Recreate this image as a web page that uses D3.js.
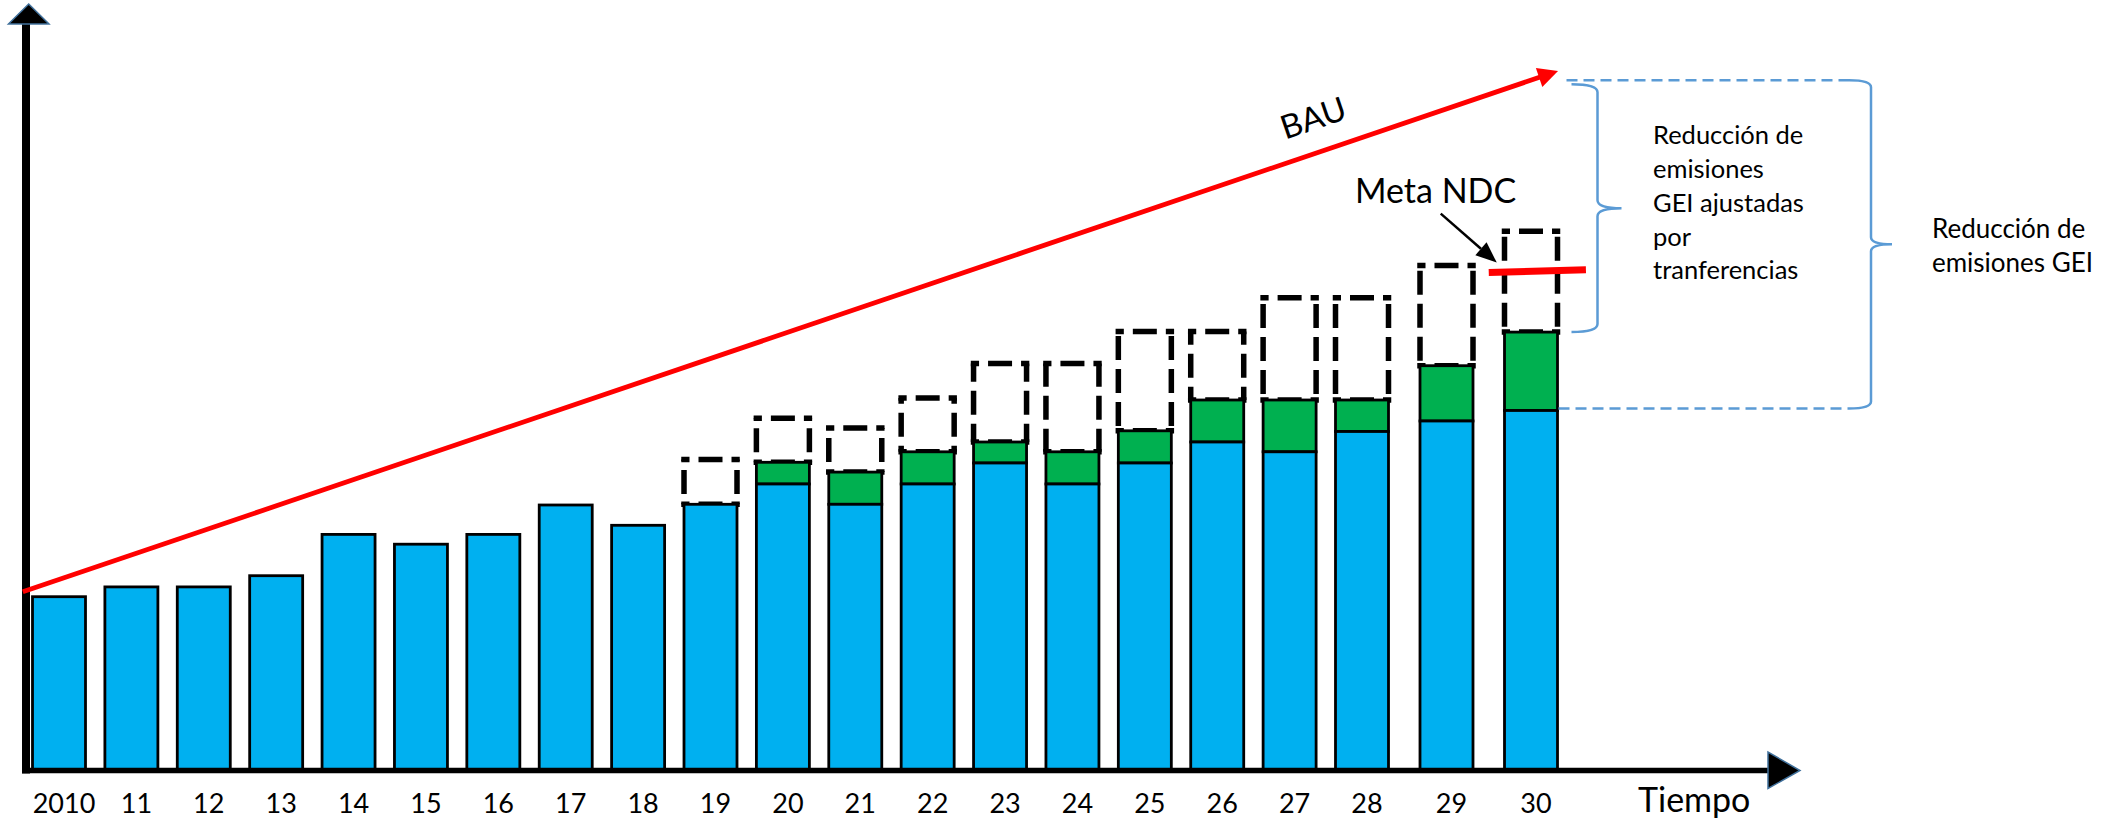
<!DOCTYPE html>
<html>
<head>
<meta charset="utf-8">
<script src="https://cdn.jsdelivr.net/npm/d3@7/dist/d3.min.js"></script>
<style>
  html, body { margin: 0; padding: 0; background: #ffffff; }
  svg { display: block; }
  text { font-family: Lato, "Open Sans", sans-serif; fill: #000; }
</style>
</head>
<body>
<svg id="chart" width="2121" height="820"></svg>
<script>
// ---------------- data ----------------
const years = [2010, 2011, 2012, 2013, 2014, 2015, 2016, 2017, 2018, 2019, 2020,
               2021, 2022, 2023, 2024, 2025, 2026, 2027, 2028, 2029, 2030];
const yearLabels = ["2010", "11", "12", "13", "14", "15", "16", "17", "18", "19", "20",
                    "21", "22", "23", "24", "25", "26", "27", "28", "29", "30"];
// emisiones (barra azul)
const emisiones = [24.9, 26.3, 26.3, 27.9, 33.8, 32.4, 33.8, 38.0, 35.1, 38.1, 41.0,
                   38.1, 41.0, 44.0, 41.0, 44.0, 47.0, 45.6, 48.5, 50.0, 51.5];
// emisiones + transferencias (tope de la barra verde)
const conTransferencias = [null, null, null, null, null, null, null, null, null, null, 44.1,
                           42.7, 45.6, 47.0, 45.6, 48.6, 53.0, 53.0, 53.0, 57.9, 62.7];
// nivel de reducción (caja punteada)
const reduccion = [null, null, null, null, null, null, null, null, null, 44.5, 50.4,
                   49.0, 53.3, 58.2, 58.2, 62.8, 62.8, 67.6, 67.6, 72.2, 77.1];
// línea BAU (inicio y fin)
const bauYears = [2009.5, 2030.32];
const bauValues = [25.6, 100];
// Meta NDC
const metaYears = [2029.5, 2030.65];
const metaValues = [71.2, 71.6];

// ---------------- scales ----------------
const svg = d3.select("#chart");
const x = d3.scaleLinear().domain([2010, 2028, 2030]).range([59, 1362, 1531]);
const y = d3.scaleLinear().domain([0, 100]).range([771, 71]);
const barW = 53;

const BLUE = "#00b0f0", GREEN = "#00b050", RED = "#ff0000", BRACE = "#5b9bd5";

const rows = years.map((yr, i) => ({
  yr, label: yearLabels[i], e: emisiones[i], t: conTransferencias[i], r: reduccion[i]
}));

// ---------------- dashed reduction boxes (dashes centred on each side) ----------------
const DASH = 24, GAP = 9, PER = DASH + GAP;
function dashedSide(g, x1, y1, x2, y2) {
  const L = Math.hypot(x2 - x1, y2 - y1);
  const s0 = L / 2 - DASH / 2;
  const off = ((PER - (s0 % PER)) % PER + PER) % PER;
  g.append("line")
    .attr("x1", x1).attr("y1", y1).attr("x2", x2).attr("y2", y2)
    .attr("stroke", "#000").attr("stroke-width", 5.5)
    .attr("stroke-dasharray", `${DASH} ${GAP}`)
    .attr("stroke-dashoffset", off);
}
const boxG = svg.append("g");
rows.filter(d => d.r !== null).forEach(d => {
  const x0 = x(d.yr) - barW / 2, x1 = x(d.yr) + barW / 2;
  const yT = y(d.r), yB = y(d.t !== null ? d.t : d.e);
  const g = boxG.append("g");
  dashedSide(g, x0 - 2.75, yT, x1 + 2.75, yT);
  dashedSide(g, x0, yT, x0, yB);
  dashedSide(g, x1, yT, x1, yB);
  dashedSide(g, x0 - 2.75, yB, x1 + 2.75, yB);
});

// ---------------- green (transfers) ----------------
svg.append("g").selectAll("rect")
  .data(rows.filter(d => d.t !== null))
  .join("rect")
  .attr("x", d => x(d.yr) - barW / 2)
  .attr("width", barW)
  .attr("y", d => y(d.t))
  .attr("height", d => y(d.e) - y(d.t))
  .attr("fill", GREEN)
  .attr("stroke", "#000")
  .attr("stroke-width", 2.8);

// ---------------- blue bars ----------------
svg.append("g").selectAll("rect")
  .data(rows)
  .join("rect")
  .attr("x", d => x(d.yr) - barW / 2)
  .attr("width", barW)
  .attr("y", d => y(d.e))
  .attr("height", d => y(0) - y(d.e))
  .attr("fill", BLUE)
  .attr("stroke", "#000")
  .attr("stroke-width", 2.8);

// ---------------- axes ----------------
const axisG = svg.append("g");
axisG.append("line")
  .attr("x1", 26).attr("x2", 26).attr("y1", 22).attr("y2", y(0) + 2.5)
  .attr("stroke", "#000").attr("stroke-width", 8);
axisG.append("polygon")
  .attr("points", [[28.7, 4], [8.5, 24], [49, 24]].map(p => p.join(",")).join(" "))
  .attr("fill", "#000").attr("stroke", "#41719c").attr("stroke-width", 1.5);
axisG.append("line")
  .attr("x1", 22).attr("x2", 1769).attr("y1", y(0) - 0.5).attr("y2", y(0) - 0.5)
  .attr("stroke", "#000").attr("stroke-width", 5.5);
axisG.append("polygon")
  .attr("points", [[1768, 752], [1768, 788.5], [1800, 770.5]].map(p => p.join(",")).join(" "))
  .attr("fill", "#000").attr("stroke", "#41719c").attr("stroke-width", 1.5);

// year labels
svg.append("g").selectAll("text")
  .data(rows)
  .join("text")
  .attr("x", d => x(d.yr) + 5)
  .attr("y", 813)
  .attr("text-anchor", "middle")
  .attr("font-size", 27)
  .text(d => d.label);

svg.append("text")
  .attr("x", 1638).attr("y", 812)
  .attr("font-size", 34)
  .text("Tiempo");

// ---------------- BAU line ----------------
const b0 = [x(bauYears[0]), y(bauValues[0])];
const b1 = [x(bauYears[1]), y(bauValues[1])];
const dx = b1[0] - b0[0], dy = b1[1] - b0[1];
const len = Math.hypot(dx, dy);
const ux = dx / len, uy = dy / len;
const headL = 20, headW = 10;
svg.append("line")
  .attr("x1", b0[0]).attr("y1", b0[1])
  .attr("x2", b1[0] - ux * (headL - 2)).attr("y2", b1[1] - uy * (headL - 2))
  .attr("stroke", RED).attr("stroke-width", 4.8);
svg.append("polygon")
  .attr("points", [
    [b1[0], b1[1]],
    [b1[0] - ux * headL - uy * headW, b1[1] - uy * headL + ux * headW],
    [b1[0] - ux * headL + uy * headW, b1[1] - uy * headL - ux * headW]
  ].map(p => p.join(",")).join(" "))
  .attr("fill", RED);

const angle = Math.atan2(dy, dx) * 180 / Math.PI;
svg.append("text")
  .attr("transform", `translate(1317,129) rotate(${angle})`)
  .attr("text-anchor", "middle")
  .attr("font-size", 33)
  .text("BAU");

// BAU value at 2030 (screen interpolation along the line)
const bauAt = xx => b0[1] + (xx - b0[0]) * dy / dx;
const x30 = x(2030);
const yTopBig = bauAt(x30);
const yBotBig = y(emisiones[emisiones.length - 1]) - 2;
const yTopSmall = yTopBig + 4;
const yBotSmall = y(conTransferencias[conTransferencias.length - 1]);
const barRight = x30 + barW / 2;

// ---------------- Meta NDC ----------------
svg.append("line")
  .attr("x1", x(metaYears[0])).attr("y1", y(metaValues[0]))
  .attr("x2", x(metaYears[1])).attr("y2", y(metaValues[1]))
  .attr("stroke", RED).attr("stroke-width", 7);

svg.append("text")
  .attr("x", 1355).attr("y", 203)
  .attr("font-size", 34)
  .text("Meta NDC");

const tip = [x(metaYears[0]) + 8, y(metaValues[0]) - 10];
const st = [tip[0] - 56, tip[1] - 49];
{
  const ddx = tip[0] - st[0], ddy = tip[1] - st[1];
  const l = Math.hypot(ddx, ddy), vx = ddx / l, vy = ddy / l;
  const hl = 21, hw = 8.5;
  svg.append("line")
    .attr("x1", st[0]).attr("y1", st[1])
    .attr("x2", tip[0] - vx * hl).attr("y2", tip[1] - vy * hl)
    .attr("stroke", "#000").attr("stroke-width", 2.5);
  svg.append("polygon")
    .attr("points", [
      tip,
      [tip[0] - vx * hl - vy * hw, tip[1] - vy * hl + vx * hw],
      [tip[0] - vx * hl + vy * hw, tip[1] - vy * hl - vx * hw]
    ].map(p => p.join(",")).join(" "))
    .attr("fill", "#000");
}

// ---------------- braces ----------------
function bracePath(xl, xv, xt, y0, y1, r) {
  const ym = (y0 + y1) / 2;
  return `M${xl},${y0} Q${xv},${y0} ${xv},${y0 + r} L${xv},${ym - r} ` +
         `Q${xv},${ym} ${xt},${ym} Q${xv},${ym} ${xv},${ym + r} ` +
         `L${xv},${y1 - r} Q${xv},${y1} ${xl},${y1}`;
}
// small brace (solid)
svg.append("path")
  .attr("d", bracePath(barRight + 14, barRight + 40, barRight + 64, yTopSmall, yBotSmall, 8))
  .attr("fill", "none").attr("stroke", BRACE).attr("stroke-width", 2.5);

// big brace with dashed leaders
const xvBig = 1871;
svg.append("path")
  .attr("d", bracePath(xvBig - 22, xvBig, xvBig + 21, yTopBig, yBotBig, 7))
  .attr("fill", "none").attr("stroke", BRACE).attr("stroke-width", 2.5);
svg.append("line")
  .attr("x1", barRight + 9).attr("x2", xvBig - 22)
  .attr("y1", yTopBig).attr("y2", yTopBig)
  .attr("stroke", BRACE).attr("stroke-width", 2.5).attr("stroke-dasharray", "11 6");
svg.append("line")
  .attr("x1", barRight + 1).attr("x2", xvBig - 22)
  .attr("y1", yBotBig).attr("y2", yBotBig)
  .attr("stroke", BRACE).attr("stroke-width", 2.5).attr("stroke-dasharray", "11 6");

// ---------------- brace texts ----------------
const midSmall = (yTopSmall + yBotSmall) / 2;
const t1 = ["Reducción de", "emisiones", "GEI ajustadas", "por", "tranferencias"];
svg.append("g").selectAll("text")
  .data(t1)
  .join("text")
  .attr("x", 1653)
  .attr("y", (d, i) => midSmall - 64 + i * 33.8)
  .attr("font-size", 25.5)
  .text(d => d);

const midBig = (yTopBig + yBotBig) / 2;
const t2 = ["Reducción de", "emisiones GEI"];
svg.append("g").selectAll("text")
  .data(t2)
  .join("text")
  .attr("x", 1932)
  .attr("y", (d, i) => midBig - 6 + i * 33.4)
  .attr("font-size", 26)
  .text(d => d);
</script>
</body>
</html>
